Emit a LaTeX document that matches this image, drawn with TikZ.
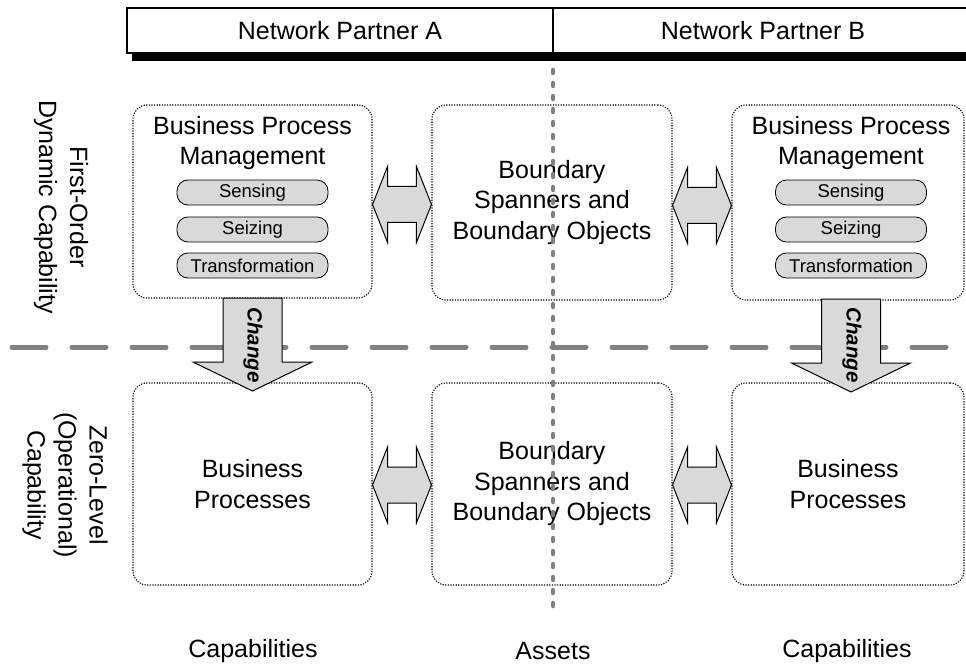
\documentclass[tikz,border=0pt]{standalone}
\usepackage{fontspec}
\setmainfont{Liberation Sans}
\usetikzlibrary{calc}
\definecolor{lightfill}{RGB}{217,217,217}
\definecolor{guide}{RGB}{128,128,128}
% two-headed link arrow between the facing sides of two boxes
\newcommand\linkarrow[3]{%
  \path[linkfill] let \p1=(#1.east), \p2=(#2.west) in
    (\x1,\y1+#3) -- (\x1+15pt,\y1+#3+38pt) -- (\x1+15pt,\y1+#3+18pt)
    -- (\x2-15pt,\y1+#3+18pt) -- (\x2-15pt,\y1+#3+38pt) -- (\x2,\y1+#3)
    -- (\x2-15pt,\y1+#3-38pt) -- (\x2-15pt,\y1+#3-18pt)
    -- (\x1+15pt,\y1+#3-18pt) -- (\x1+15pt,\y1+#3-38pt) -- cycle;}
% downward block arrow starting at a named coordinate
\newcommand\changearrow[1]{%
  \path[linkfill] let \p1=(#1) in
    (\x1-29.5pt,\y1) -- (\x1+29.5pt,\y1) -- (\x1+29.5pt,\y1-64pt)
    -- (\x1+59.5pt,\y1-64pt) -- (\x1,\y1-93pt) -- (\x1-59.5pt,\y1-64pt)
    -- (\x1-29.5pt,\y1-64pt) -- cycle;}
\begin{document}
\begin{tikzpicture}[x=1pt,y=-1pt,
  bigtext/.style={font=\fontsize{25}{30.5}\selectfont, align=center},
  box/.style={draw, line width=1.1pt, dash pattern=on 1.2pt off 1.4pt,
    rounded corners=14pt, inner sep=0pt, bigtext},
  pill/.style={draw, fill=lightfill, line width=0.8pt, rounded corners=11pt,
    minimum width=151pt, minimum height=25pt, inner sep=0pt,
    font=\fontsize{18.5}{20}\selectfont},
  hdr/.style={draw, fill=white, line width=1.2pt, minimum height=45pt,
    inner sep=0pt, font=\fontsize{25}{30}\selectfont},
  linkfill/.style={draw, fill=lightfill, line width=1pt, line join=miter},
  sidelabel/.style={rotate=-90, font=\fontsize{25}{31}\selectfont, align=center},
  changelabel/.style={rotate=-90, font=\bfseries\itshape\fontsize{20.5}{20}\selectfont},
  foot/.style={font=\fontsize{25}{30}\selectfont}
]
\useasboundingbox (0,0) rectangle (966,668);

% header bar with drop shadow
\fill[black] (132,53) rectangle (975,61);
\node[hdr, minimum width=426pt] (hdrA) at (340,30.5) {Network Partner A};
\node[hdr, minimum width=420pt] (hdrB) at (763,30.5) {Network Partner B};

% level separator
\draw[guide, line width=5pt, line cap=round, dash pattern=on 34pt off 26pt]
  (12,347) -- (970,347);

% upper row
\node[box, minimum width=239pt, minimum height=193pt] (bpmA) at (252.5,201.5) {};
\node[box, minimum width=240pt, minimum height=195pt] (bsTop) at (552,202.5)
  {Boundary\\Spanners and\\Boundary Objects};
\node[box, minimum width=232pt, minimum height=195pt] (bpmB) at (848,202.5) {};

\node[bigtext] (bpmAt) at (252.5,143) {Business Process\\Management};
\node[pill] (senseA) at (252.5,192.5) {Sensing};
\node[pill] (seizeA) at (252.5,229.5) {Seizing};
\node[pill] (transA) at (252.5,265.5) {Transformation};

\node[bigtext] (bpmBt) at (851,143) {Business Process\\Management};
\node[pill] (senseB) at (851,192.5) {Sensing};
\node[pill] (seizeB) at (851,229.5) {Seizing};
\node[pill] (transB) at (851,265.5) {Transformation};

% lower row
\node[box, minimum width=239pt, minimum height=202pt] (procA) at (252.5,484)
  {Business\\Processes};
\node[box, minimum width=240pt, minimum height=202pt] (bsBot) at (552,484)
  {Boundary\\Spanners and\\Boundary Objects};
\node[box, minimum width=232pt, minimum height=202pt] (procB) at (848,484)
  {Business\\Processes};

% links between partners and boundary spanners
\linkarrow{bpmA}{bsTop}{-3pt}
\linkarrow{bsTop}{bpmB}{-3pt}
\linkarrow{procA}{bsBot}{-1pt}
\linkarrow{bsBot}{procB}{-1pt}

% change arrows from first-order to zero-level capability
\coordinate (chgA) at (252.5,298);
\coordinate (chgB) at (851,299);
\changearrow{chgA}
\changearrow{chgB}
\node[changelabel] (chgAt) at (253,345) {Change};
\node[changelabel] (chgBt) at (852,345) {Change};

% partner boundary
\draw[guide, line width=4.5pt, line cap=round, dash pattern=on 3pt off 10pt]
  (553,70) -- (553,610);

% level labels
\node[sidelabel] (lvlTop) at (61,207) {First-Order\\Dynamic Capability};
\node[sidelabel] (lvlBot) at (65,485) {Zero-Level\\(Operational)\\Capability};

% column labels
\node[foot] (capA) at (253,651) {Capabilities};
\node[foot] (assets) at (553,651) {Assets};
\node[foot] (capB) at (847,651) {Capabilities};
\end{tikzpicture}
\end{document}
